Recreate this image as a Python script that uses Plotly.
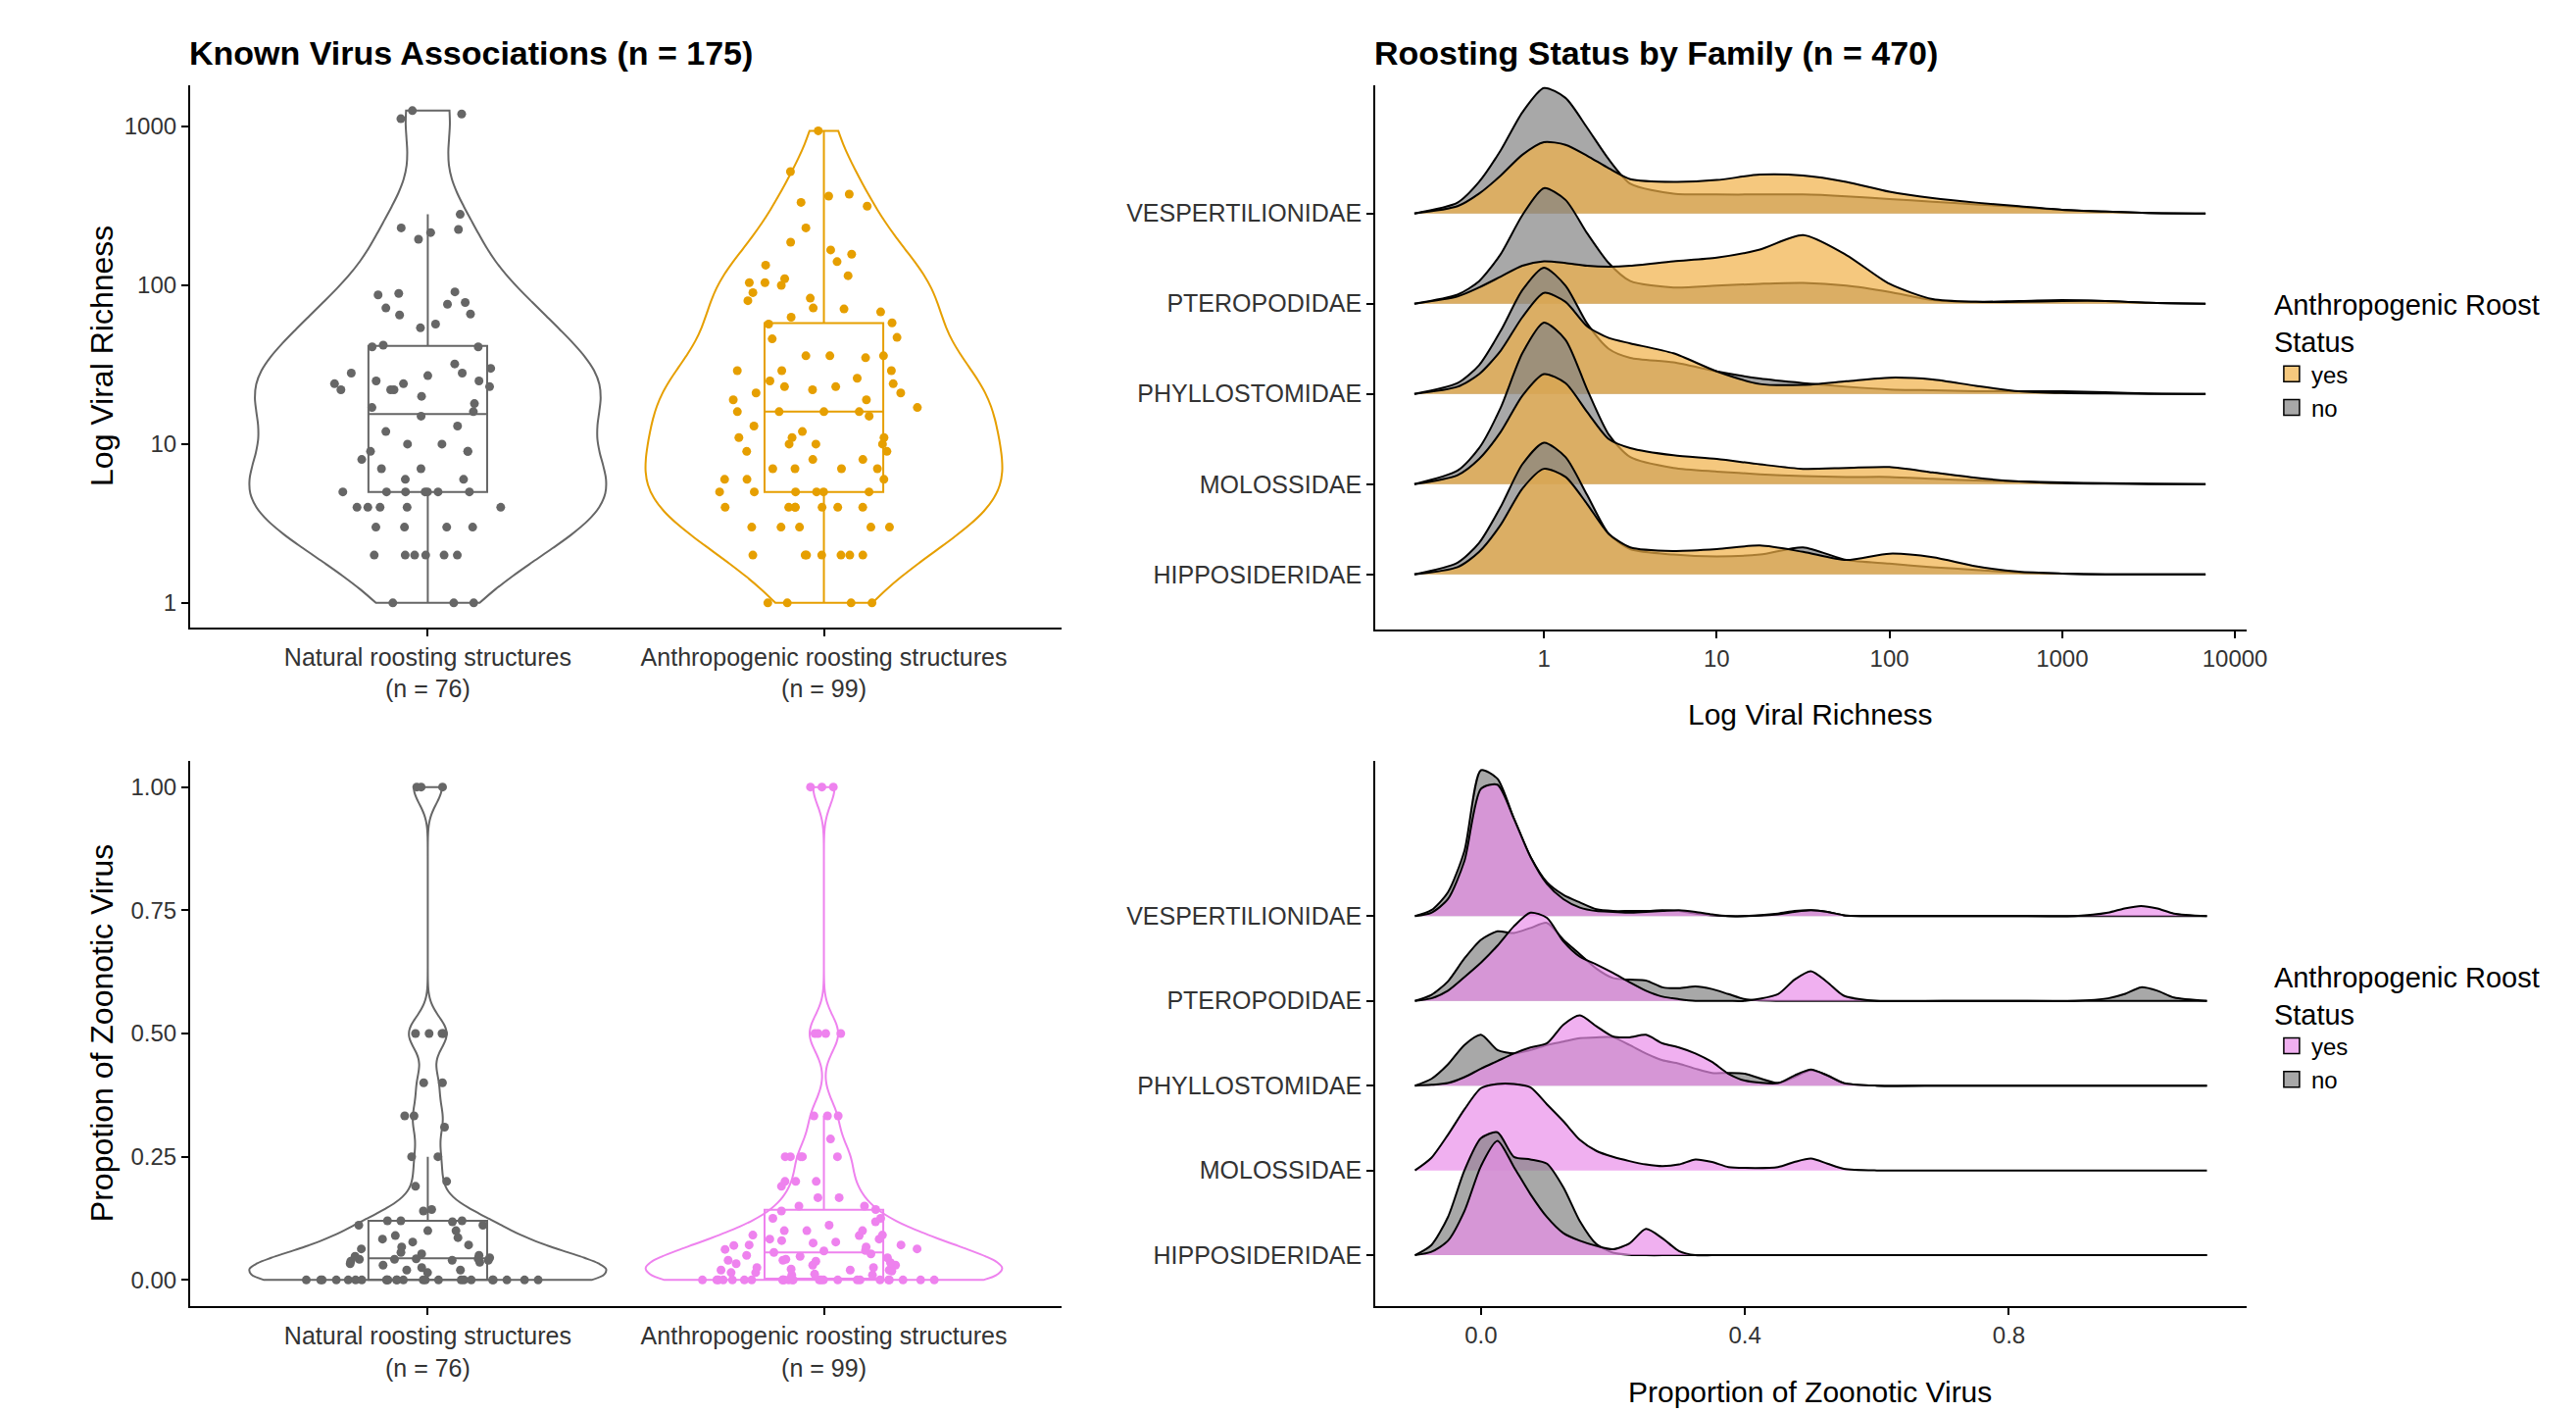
import numpy as np
import plotly.graph_objects as go

# ---------------- data ----------------
NAT_LABEL = "Natural roosting structures<br>(n = 76)"
ANT_LABEL = "Anthropogenic roosting structures<br>(n = 99)"

NAT_RICHNESS = [1, 1, 1, 2, 2, 2, 2, 2, 2, 3, 3, 3, 3, 4, 4, 4, 4, 4, 5, 5, 5, 5, 5, 5, 5,
                6, 6, 7, 7, 8, 9, 9, 9, 10, 10, 12, 13, 15, 16, 17, 18, 20, 22, 22, 22, 23,
                24, 24, 25, 25, 27, 28, 28, 30, 32, 41, 41, 42, 54, 57, 65, 66, 72, 76, 78,
                87, 89, 91, 195, 215, 225, 230, 280, 1120, 1200, 1260]
ANT_RICHNESS = [1, 1, 1, 1, 2, 2, 2, 2, 2, 2, 2, 3, 3, 3, 3, 3, 4, 4, 4, 4, 4, 4, 4,
                5, 5, 5, 5, 5, 5, 6, 6, 6, 7, 7, 7, 7, 8, 8, 9, 9, 10, 10, 10, 11, 11, 11,
                12, 13, 15, 16, 16, 16, 16, 17, 19, 19, 21, 21, 22, 23, 23, 24, 25, 26,
                29, 29, 29, 35, 36, 36, 36, 46, 47, 57, 58, 63, 68, 71, 72, 80, 83, 90,
                100, 104, 104, 110, 115, 134, 141, 157, 167, 187, 230, 315, 333, 365,
                375, 520, 940]

NAT_ZOONOTIC = [0, 0, 0, 0, 0, 0, 0, 0, 0, 0, 0, 0, 0, 0, 0, 0, 0, 0, 0, 0, 0, 0, 0, 0,
                0.015, 0.02, 0.02, 0.025, 0.03, 0.033, 0.036, 0.038, 0.04, 0.04, 0.042,
                0.042, 0.043, 0.043, 0.045, 0.048, 0.05, 0.053, 0.056, 0.063, 0.067,
                0.071, 0.077, 0.083, 0.086, 0.09, 0.1, 0.1, 0.111, 0.111, 0.118, 0.12,
                0.12, 0.12, 0.14, 0.143, 0.19, 0.2, 0.25, 0.25, 0.31, 0.333, 0.333, 0.4,
                0.4, 0.5, 0.5, 0.5, 0.5, 1, 1, 1]
ANT_ZOONOTIC = [0, 0, 0, 0, 0, 0, 0, 0, 0, 0, 0, 0, 0, 0, 0, 0, 0, 0, 0, 0, 0, 0, 0, 0, 0,
                0.01, 0.01, 0.012, 0.015, 0.015, 0.018, 0.02, 0.02, 0.02, 0.022, 0.025,
                0.025, 0.03, 0.03, 0.033, 0.035, 0.038, 0.04, 0.04, 0.042, 0.045, 0.048,
                0.05, 0.053, 0.056, 0.059, 0.06, 0.062, 0.063, 0.067, 0.07, 0.071, 0.071,
                0.075, 0.077, 0.08, 0.083, 0.083, 0.09, 0.091, 0.091, 0.1, 0.1, 0.1,
                0.111, 0.118, 0.125, 0.125, 0.14, 0.143, 0.15, 0.15, 0.167, 0.167, 0.19,
                0.2, 0.2, 0.2, 0.25, 0.25, 0.25, 0.25, 0.25, 0.286, 0.333, 0.333, 0.333,
                0.5, 0.5, 0.5, 0.5, 1, 1, 1]

RICH_TICKS = [1, 10, 100, 1000]
RICH_TICKS_RIDGE = [1, 10, 100, 1000, 10000]
ZOO_TICKS = [0, 0.25, 0.5, 0.75, 1.0]
ZOO_TICKS_RIDGE = [0.0, 0.4, 0.8]

# families, bottom row first
FAMILIES = ["HIPPOSIDERIDAE", "MOLOSSIDAE", "PHYLLOSTOMIDAE", "PTEROPODIDAE", "VESPERTILIONIDAE"]
STATUS = ["yes", "no"]

# ridge densities, log10 viral richness grid
RICH_GRID_LOG10 = [-0.75, -0.5, -0.375, -0.25, -0.125, 0, 0.125, 0.25, 0.375, 0.5, 0.75, 1.0,
                   1.25, 1.5, 1.75, 2.0, 2.25, 2.5, 2.75, 3.0, 3.25, 3.5, 3.83]
VESP_RICH_NO = [0, 0.12, 0.35, 0.70, 1.12, 1.39, 1.28, 0.95, 0.60, 0.33, 0.22, 0.21, 0.21,
                0.21, 0.19, 0.16, 0.13, 0.10, 0.07, 0.04, 0.02, 0.005, 0]
VESP_RICH_YES = [0, 0.08, 0.22, 0.42, 0.65, 0.79, 0.76, 0.64, 0.50, 0.38, 0.35, 0.37, 0.43,
                 0.42, 0.35, 0.24, 0.17, 0.12, 0.08, 0.04, 0.02, 0.005, 0]
PTERO_RICH_NO = [0, 0.10, 0.25, 0.55, 0.98, 1.28, 1.15, 0.78, 0.45, 0.25, 0.18, 0.20, 0.22,
                 0.23, 0.20, 0.13, 0.04, 0.02, 0.03, 0.04, 0.03, 0.01, 0]
PTERO_RICH_YES = [0, 0.08, 0.18, 0.30, 0.42, 0.47, 0.45, 0.42, 0.41, 0.42, 0.47, 0.51, 0.60,
                  0.76, 0.54, 0.22, 0.05, 0.02, 0.02, 0.03, 0.03, 0.01, 0]
PHYLLO_RICH_NO = [0, 0.12, 0.32, 0.70, 1.15, 1.40, 1.20, 0.78, 0.50, 0.40, 0.35, 0.25, 0.17,
                  0.12, 0.08, 0.05, 0.04, 0.03, 0.03, 0.03, 0.02, 0.005, 0]
PHYLLO_RICH_YES = [0, 0.08, 0.22, 0.48, 0.85, 1.12, 1.02, 0.75, 0.62, 0.56, 0.45, 0.25, 0.11,
                   0.10, 0.14, 0.18, 0.16, 0.09, 0.03, 0.01, 0.005, 0, 0]
MOLOS_RICH_NO = [0, 0.15, 0.40, 0.85, 1.45, 1.79, 1.60, 1.05, 0.55, 0.30, 0.18, 0.14, 0.11,
                 0.09, 0.08, 0.08, 0.06, 0.04, 0.03, 0.02, 0.01, 0.005, 0]
MOLOS_RICH_YES = [0, 0.10, 0.28, 0.58, 0.98, 1.22, 1.12, 0.80, 0.50, 0.40, 0.32, 0.28, 0.22,
                  0.17, 0.18, 0.19, 0.13, 0.07, 0.03, 0.01, 0.005, 0, 0]
HIPPO_RICH_NO = [0, 0.13, 0.35, 0.75, 1.22, 1.46, 1.30, 0.88, 0.45, 0.28, 0.22, 0.20, 0.22,
                 0.30, 0.16, 0.12, 0.08, 0.05, 0.02, 0.01, 0, 0, 0]
HIPPO_RICH_YES = [0, 0.08, 0.25, 0.55, 0.95, 1.17, 1.08, 0.78, 0.45, 0.30, 0.26, 0.28, 0.32,
                  0.25, 0.16, 0.23, 0.19, 0.09, 0.03, 0.01, 0, 0, 0]

# ridge densities, proportion zoonotic grid
ZOO_GRID = [-0.1, -0.075, -0.05, -0.025, 0, 0.025, 0.05, 0.075, 0.1, 0.125, 0.15, 0.175, 0.2,
            0.225, 0.25, 0.275, 0.3, 0.325, 0.35, 0.375, 0.4, 0.45, 0.475, 0.5, 0.525, 0.55,
            0.6, 0.7, 0.8, 0.9, 0.95, 0.975, 1.0, 1.025, 1.05, 1.1]
VESP_ZOO_NO = [0, 0.07, 0.28, 0.77, 1.72, 1.62, 1.15, 0.70, 0.40, 0.25, 0.16, 0.08, 0.06,
               0.06, 0.06, 0.07, 0.06, 0.03, 0.01, 0, 0, 0.03, 0.06, 0.07, 0.05, 0.01, 0,
               0, 0, 0, 0, 0, 0, 0, 0, 0]
VESP_ZOO_YES = [0, 0.04, 0.20, 0.65, 1.50, 1.55, 1.15, 0.70, 0.38, 0.20, 0.10, 0.06, 0.05,
                0.04, 0.05, 0.06, 0.07, 0.05, 0.02, 0, 0, 0.02, 0.05, 0.07, 0.05, 0.01, 0,
                0, 0, 0, 0.04, 0.09, 0.12, 0.09, 0.03, 0]
PTERO_ZOO_NO = [0, 0.07, 0.23, 0.50, 0.72, 0.82, 0.80, 0.86, 0.92, 0.72, 0.55, 0.38, 0.27,
                0.25, 0.24, 0.16, 0.15, 0.17, 0.14, 0.08, 0.02, 0, 0, 0, 0, 0, 0, 0, 0, 0,
                0.03, 0.08, 0.16, 0.12, 0.04, 0]
PTERO_ZOO_YES = [0, 0.03, 0.12, 0.28, 0.45, 0.65, 0.88, 1.04, 0.98, 0.70, 0.52, 0.43, 0.33,
                 0.22, 0.12, 0.05, 0.02, 0, 0, 0, 0, 0.08, 0.25, 0.35, 0.22, 0.06, 0, 0, 0,
                 0, 0, 0, 0, 0, 0, 0]
PHYLLO_ZOO_NO = [0, 0.08, 0.25, 0.48, 0.60, 0.42, 0.38, 0.42, 0.48, 0.52, 0.56, 0.57, 0.57,
                 0.48, 0.38, 0.30, 0.26, 0.20, 0.15, 0.15, 0.14, 0.03, 0.10, 0.18, 0.12,
                 0.03, 0, 0, 0, 0, 0, 0, 0, 0, 0, 0]
PHYLLO_ZOO_YES = [0, 0.01, 0.03, 0.10, 0.20, 0.29, 0.38, 0.45, 0.50, 0.72, 0.83, 0.70, 0.58,
                  0.57, 0.60, 0.50, 0.45, 0.38, 0.28, 0.14, 0.06, 0.03, 0.12, 0.19, 0.12,
                  0.03, 0, 0, 0, 0, 0, 0, 0, 0, 0, 0]
MOLOS_ZOO_YES = [0, 0.15, 0.42, 0.72, 0.97, 1.02, 1.02, 0.98, 0.78, 0.58, 0.36, 0.23, 0.16,
                 0.11, 0.07, 0.05, 0.07, 0.13, 0.10, 0.04, 0.03, 0.04, 0.10, 0.14, 0.08,
                 0.02, 0, 0, 0, 0, 0, 0, 0, 0, 0, 0]
HIPPO_ZOO_NO = [0, 0.12, 0.45, 1.00, 1.38, 1.45, 1.16, 1.13, 1.08, 0.80, 0.40, 0.13, 0.03,
                0.005, 0, 0, 0, 0, 0, 0, 0, 0, 0, 0, 0, 0, 0, 0, 0, 0, 0, 0, 0, 0, 0, 0]
HIPPO_ZOO_YES = [0, 0.04, 0.17, 0.52, 1.05, 1.35, 1.04, 0.72, 0.45, 0.26, 0.17, 0.11, 0.07,
                 0.14, 0.31, 0.20, 0.05, 0, 0, 0, 0, 0, 0, 0, 0, 0, 0, 0, 0, 0, 0, 0, 0, 0,
                 0, 0]

RICH_CURVES = {
    "VESPERTILIONIDAE": {"no": VESP_RICH_NO, "yes": VESP_RICH_YES},
    "PTEROPODIDAE": {"no": PTERO_RICH_NO, "yes": PTERO_RICH_YES},
    "PHYLLOSTOMIDAE": {"no": PHYLLO_RICH_NO, "yes": PHYLLO_RICH_YES},
    "MOLOSSIDAE": {"no": MOLOS_RICH_NO, "yes": MOLOS_RICH_YES},
    "HIPPOSIDERIDAE": {"no": HIPPO_RICH_NO, "yes": HIPPO_RICH_YES},
}
ZOO_CURVES = {
    "VESPERTILIONIDAE": {"no": VESP_ZOO_NO, "yes": VESP_ZOO_YES},
    "PTEROPODIDAE": {"no": PTERO_ZOO_NO, "yes": PTERO_ZOO_YES},
    "PHYLLOSTOMIDAE": {"no": PHYLLO_ZOO_NO, "yes": PHYLLO_ZOO_YES},
    "MOLOSSIDAE": {"yes": MOLOS_ZOO_YES},
    "HIPPOSIDERIDAE": {"no": HIPPO_ZOO_NO, "yes": HIPPO_ZOO_YES},
}

# ---------------- style ----------------
FONT = "Liberation Sans, Arial, Helvetica, sans-serif"
GRAY = "#666666"
ORANGE = "#E69F00"
VIOLET = "#EE82EE"
FILL_NO = "rgba(131,131,131,0.7)"
FILL_YES_RICH = "rgba(241,176,71,0.7)"
FILL_YES_ZOO = "rgba(233,142,233,0.7)"
TICK_COLOR = "#333333"


def nrd0(values):
    v = np.asarray(values, dtype=float)
    sd = v.std(ddof=1)
    q75, q25 = np.percentile(v, [75, 25])
    lo = min(sd, (q75 - q25) / 1.34)
    if lo <= 0:
        lo = sd
    return 0.9 * lo * len(v) ** -0.2


fig = go.Figure()


def add_violin(label, values, color, xa, ya, transform=None):
    vals = np.log10(values) if transform == "log" else np.asarray(values, dtype=float)
    fig.add_trace(go.Violin(
        x0=label, y=vals, name=label, xaxis=xa, yaxis=ya,
        line=dict(color=color, width=2), fillcolor="rgba(255,255,255,0)",
        spanmode="hard", bandwidth=nrd0(vals), width=0.9, scalemode="width",
        points="all", jitter=0.7, pointpos=0,
        marker=dict(color=color, size=9, line=dict(width=0)),
        box=dict(visible=True, width=0.333, fillcolor="rgba(255,255,255,0)",
                 line=dict(color=color, width=2)),
        meanline=dict(visible=False), showlegend=False, hoverinfo="y"))


add_violin(NAT_LABEL, NAT_RICHNESS, GRAY, "x", "y", "log")
add_violin(ANT_LABEL, ANT_RICHNESS, ORANGE, "x", "y", "log")
add_violin(NAT_LABEL, NAT_ZOONOTIC, GRAY, "x3", "y3")
add_violin(ANT_LABEL, ANT_ZOONOTIC, VIOLET, "x3", "y3")


def add_ridges(curves, grid_x, fill_yes, xa, ya):
    # top row first so lower ridges overlap the upper ones
    for fam in reversed(FAMILIES):
        base = FAMILIES.index(fam) + 1
        for status in ["no", "yes"]:
            if status not in curves[fam]:
                continue
            dens = curves[fam][status]
            fig.add_trace(go.Scatter(
                x=grid_x, y=[base] * len(grid_x), mode="lines", line=dict(width=0),
                xaxis=xa, yaxis=ya, showlegend=False, hoverinfo="skip"))
            fig.add_trace(go.Scatter(
                x=grid_x, y=[base + d for d in dens], mode="lines",
                line=dict(color="black", width=2, shape="spline", smoothing=0.7),
                fill="tonexty", fillcolor=fill_yes if status == "yes" else FILL_NO,
                xaxis=xa, yaxis=ya, showlegend=False, hoverinfo="skip"))


add_ridges(RICH_CURVES, [10 ** g for g in RICH_GRID_LOG10], FILL_YES_RICH, "x2", "y2")
add_ridges(ZOO_CURVES, ZOO_GRID, FILL_YES_ZOO, "x4", "y4")

# legend entries
for legend_id, xa, ya, fill_yes in [("legend", "x2", "y2", FILL_YES_RICH),
                                     ("legend2", "x4", "y4", FILL_YES_ZOO)]:
    for status in STATUS:
        fig.add_trace(go.Scatter(
            x=[None], y=[None], mode="markers", name=status, xaxis=xa, yaxis=ya,
            marker=dict(symbol="square", size=16,
                        color=fill_yes if status == "yes" else FILL_NO,
                        line=dict(color="black", width=1.5)),
            legend=legend_id, showlegend=True))

axis_common = dict(showline=True, linecolor="black", linewidth=2, ticks="outside",
                   ticklen=7, tickwidth=2, tickcolor="black", showgrid=False,
                   zeroline=False, tickfont=dict(family=FONT, size=24, color=TICK_COLOR))
big_ticks = dict(family=FONT, size=25, color=TICK_COLOR)

TOP = [0.5556, 0.9396]
BOT = [0.0750, 0.4611]
LEFT = [0.0738, 0.4121]
RIGHT = [0.5339, 0.8721]

legend_common = dict(xanchor="left", yanchor="top", bgcolor="rgba(0,0,0,0)",
                     tracegroupgap=0, traceorder="normal",
                     title=dict(text="Anthropogenic Roost<br>Status",
                                font=dict(family=FONT, size=29, color="black")),
                     font=dict(family=FONT, size=24, color="black"))

fig.update_layout(
    width=2628, height=1440, margin=dict(l=0, r=0, t=0, b=0, autoexpand=False),
    paper_bgcolor="white", plot_bgcolor="white",
    font=dict(family=FONT, color="black"),
    violinmode="overlay", violingap=0,
    xaxis=dict(domain=LEFT, anchor="y", type="category", range=[-0.6, 1.6],
               **{**axis_common, "tickfont": big_ticks}),
    yaxis=dict(domain=TOP, anchor="x", range=[-0.155, 3.26],
               tickvals=list(np.log10(RICH_TICKS)), ticktext=[str(t) for t in RICH_TICKS],
               **axis_common),
    xaxis2=dict(domain=RIGHT, anchor="y2", type="log", range=[-0.976, 4.067],
                tickvals=RICH_TICKS_RIDGE, ticktext=[str(t) for t in RICH_TICKS_RIDGE],
                **axis_common),
    yaxis2=dict(domain=[0.5542, 0.9396], anchor="x2", range=[0.39, 6.42],
                tickvals=list(range(1, len(FAMILIES) + 1)), ticktext=FAMILIES,
                **{**axis_common, "tickfont": big_ticks}),
    xaxis3=dict(domain=LEFT, anchor="y3", type="category", range=[-0.6, 1.6],
                **{**axis_common, "tickfont": big_ticks}),
    yaxis3=dict(domain=BOT, anchor="x3", range=[-0.053, 1.053], tickvals=ZOO_TICKS,
                tickformat=".2f", **axis_common),
    xaxis4=dict(domain=RIGHT, anchor="y4", range=[-0.16, 1.16], tickvals=ZOO_TICKS_RIDGE,
                tickformat=".1f", **axis_common),
    yaxis4=dict(domain=BOT, anchor="x4", range=[0.4, 6.83],
                tickvals=list(range(1, len(FAMILIES) + 1)), ticktext=FAMILIES,
                **{**axis_common, "tickfont": big_ticks}),
    legend=dict(x=0.882, y=0.803, **legend_common),
    legend2=dict(x=0.882, y=0.327, **legend_common),
)

annotations = [
    dict(text="<b>Known Virus Associations (n = 175)</b>", x=LEFT[0] - 0.001, y=0.9625,
         xanchor="left", yanchor="middle", font=dict(size=34)),
    dict(text="<b>Roosting Status by Family (n = 470)</b>", x=RIGHT[0] - 0.001, y=0.9625,
         xanchor="left", yanchor="middle", font=dict(size=34)),
    dict(text="Log Viral Richness", x=0.0396, y=0.748, textangle=-90,
         xanchor="center", yanchor="middle", font=dict(size=32)),
    dict(text="Propotion of Zoonotic Virus", x=0.0396, y=0.268, textangle=-90,
         xanchor="center", yanchor="middle", font=dict(size=32)),
    dict(text="Log Viral Richness", x=0.7028, y=0.4938,
         xanchor="center", yanchor="middle", font=dict(size=30)),
    dict(text="Proportion of Zoonotic Virus", x=0.7028, y=0.0139,
         xanchor="center", yanchor="middle", font=dict(size=30)),
]
for a in annotations:
    a.update(xref="paper", yref="paper", showarrow=False)
    a["font"] = dict(family=FONT, color="black", **a["font"])
fig.update_layout(annotations=annotations)

fig.write_html("out.html",
               config={"displayModeBar": False},
               post_script="document.body.style.margin='0px';"
                           "document.body.style.overflow='hidden';")
